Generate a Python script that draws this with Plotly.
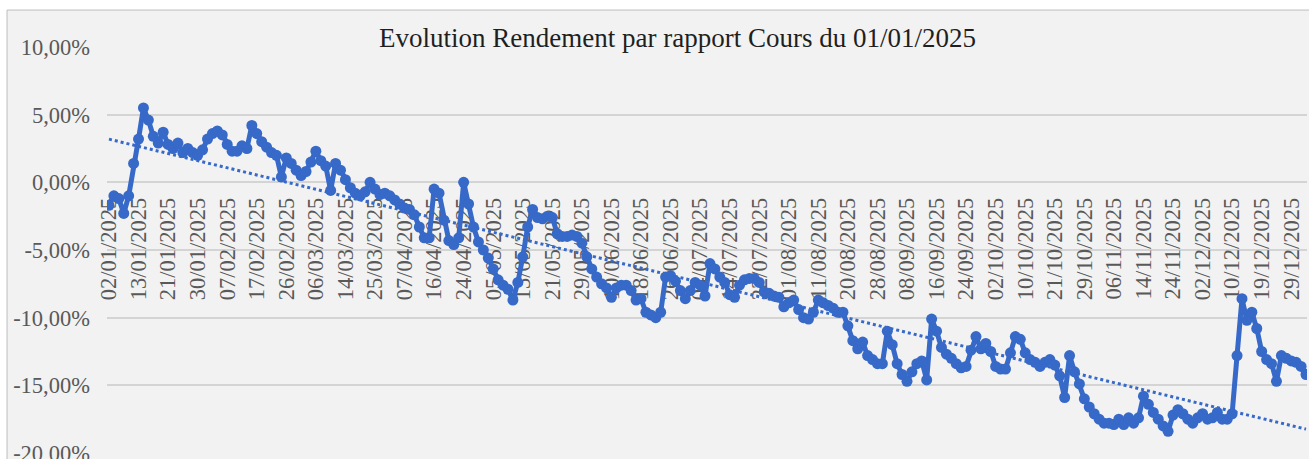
import numpy as np
import plotly.graph_objects as go

# rendement (%) relatif au cours du 01/01/2025, une valeur par séance
rendement = [
    -1.7, -1.0, -1.2, -2.3, -1.0, 1.4, 3.2, 5.5, 4.6, 3.4,
    2.9, 3.7, 2.8, 2.5, 2.9, 2.2, 2.5, 2.2, 2.0, 2.4,
    3.2, 3.6, 3.8, 3.5, 2.8, 2.3, 2.3, 2.7, 2.5, 4.2,
    3.6, 3.0, 2.6, 2.2, 2.0, 0.4, 1.8, 1.4, 0.9, 0.5,
    0.8, 1.5, 2.3, 1.6, 1.2, -0.6, 1.4, 0.9, 0.2, -0.4,
    -0.8, -1.0, -0.7, 0.0, -0.5, -0.9, -0.8, -1.0, -1.3, -1.6,
    -1.9, -2.0, -2.4, -3.3, -4.1, -4.1, -0.5, -0.8, -2.8, -4.3,
    -4.6, -4.1, 0.0, -1.6, -3.3, -4.4, -5.0, -5.6, -6.4, -7.2,
    -7.6, -7.9, -8.7, -7.4, -5.5, -3.3, -2.0, -2.6, -2.7, -2.5,
    -2.6, -3.8, -4.0, -4.0, -3.9, -4.0, -4.5, -5.5, -6.4, -7.0,
    -7.5, -7.8, -8.5, -7.8, -7.6, -7.6, -8.0, -8.7, -8.6, -9.6,
    -9.8, -10.0, -9.6, -7.0, -6.9, -7.3, -8.0, -8.6, -8.0, -7.4,
    -7.6, -8.4, -6.0, -6.4, -7.0, -7.4, -8.3, -8.5, -7.6, -7.2,
    -7.1, -7.1, -7.4, -8.1, -8.2, -8.4, -8.5, -9.2, -8.9, -8.7,
    -9.4, -10.0, -10.1, -9.6, -8.7, -8.9, -9.1, -9.3, -9.6, -9.6,
    -10.6, -11.7, -12.3, -11.8, -12.8, -13.1, -13.4, -13.4, -11.0, -12.0,
    -13.4, -14.2, -14.7, -14.0, -13.4, -13.2, -14.6, -10.1, -11.0, -12.2,
    -12.7, -13.0, -13.4, -13.7, -13.6, -12.4, -11.4, -12.3, -11.9, -12.5,
    -13.6, -13.8, -13.8, -12.6, -11.4, -11.6, -12.6, -13.1, -13.3, -13.6,
    -13.3, -13.1, -13.5, -14.3, -15.9, -12.8, -14.0, -14.9, -16.0, -16.6,
    -17.1, -17.5, -17.8, -17.8, -17.9, -17.5, -17.9, -17.4, -17.8, -17.4,
    -15.8, -16.4, -17.0, -17.5, -18.0, -18.4, -17.2, -16.8, -17.1, -17.5,
    -17.8, -17.4, -17.1, -17.5, -17.4, -17.0, -17.5, -17.5, -17.1, -12.8,
    -8.6, -10.2, -9.6, -10.8, -12.5, -13.1, -13.4, -14.7, -12.8, -13.0,
    -13.2, -13.3, -13.6, -14.2,
]

# une étiquette de date toutes les 6 séances
dates_affichees = [
    "02/01/2025", "13/01/2025", "21/01/2025", "30/01/2025", "07/02/2025",
    "17/02/2025", "26/02/2025", "06/03/2025", "14/03/2025", "25/03/2025",
    "07/04/2025", "16/04/2025", "24/04/2025", "05/05/2025", "13/05/2025",
    "21/05/2025", "29/05/2025", "10/06/2025", "18/06/2025", "26/06/2025",
    "04/07/2025", "14/07/2025", "22/07/2025", "01/08/2025", "11/08/2025",
    "20/08/2025", "28/08/2025", "08/09/2025", "16/09/2025", "24/09/2025",
    "02/10/2025", "10/10/2025", "21/10/2025", "29/10/2025", "06/11/2025",
    "14/11/2025", "24/11/2025", "02/12/2025", "10/12/2025", "19/12/2025",
    "29/12/2025",
]
pas_etiquette = 6

y_ticks = [10, 5, 0, -5, -10, -15, -20]
y_labels = ["10,00%", "5,00%", "0,00%", "-5,00%", "-10,00%", "-15,00%", "-20,00%"]

titre = "Evolution Rendement par rapport Cours du 01/01/2025"

BLEU = "#3669c8"
FOND = "#f2f2f2"
SERIF = "Liberation Serif, Times New Roman, serif"

x = np.arange(len(rendement))
pente, origine = np.polyfit(x, rendement, 1)
tendance = pente * x + origine

fig = go.Figure()

fig.add_trace(go.Scatter(
    x=x, y=tendance, mode="lines",
    line=dict(color=BLEU, width=3, dash="dot"),
    hoverinfo="skip", showlegend=False,
))

fig.add_trace(go.Scatter(
    x=x, y=rendement, mode="lines+markers",
    line=dict(color=BLEU, width=5),
    marker=dict(color=BLEU, size=11),
    showlegend=False,
))

fig.update_layout(
    width=1309, height=459,
    margin=dict(l=107, r=2, t=47, b=6, pad=0),
    paper_bgcolor="white",
    plot_bgcolor=FOND,
    font=dict(family=SERIF, color="#595959"),
    xaxis=dict(
        range=[-0.4, len(rendement) - 0.8],
        tickmode="array",
        tickvals=list(x[::pas_etiquette]),
        ticktext=dates_affichees,
        tickangle=-90,
        tickfont=dict(size=22.5, color="#595959", family=SERIF),
        anchor="free",
        position=(0 - y_ticks[-1]) / (y_ticks[0] - y_ticks[-1]),
        showgrid=False, zeroline=False, showline=False,
        ticks="", ticklabelstandoff=10,
        ticklabeloverflow="allow",
        layer="below traces",
        automargin=False,
    ),
    yaxis=dict(
        range=[y_ticks[-1], y_ticks[0]],
        tickmode="array",
        tickvals=y_ticks,
        ticktext=y_labels,
        tickfont=dict(size=22.5, color="#595959", family=SERIF),
        showgrid=True, gridcolor="#d4d4d4", gridwidth=1.5,
        zeroline=False, showline=False, ticks="",
        ticklabelstandoff=16,
        ticklabeloverflow="allow",
        automargin=False,
    ),
    shapes=[dict(
        type="rect", xref="paper", yref="paper", layer="below",
        x0=-0.0833, x1=1.01, y0=-0.02, y1=1.091,
        fillcolor=FOND, line=dict(color="#bdbdbd", width=1),
    )],
    annotations=[dict(
        text=titre, xref="paper", yref="paper",
        x=0.475, y=1.022, xanchor="center", yanchor="middle",
        showarrow=False, bgcolor=FOND, borderpad=2,
        font=dict(size=27, color="#1f1f1f", family=SERIF),
    )],
)

fig.write_html("out.html", config={"displayModeBar": False},
               post_script="document.body.style.margin='0';")
